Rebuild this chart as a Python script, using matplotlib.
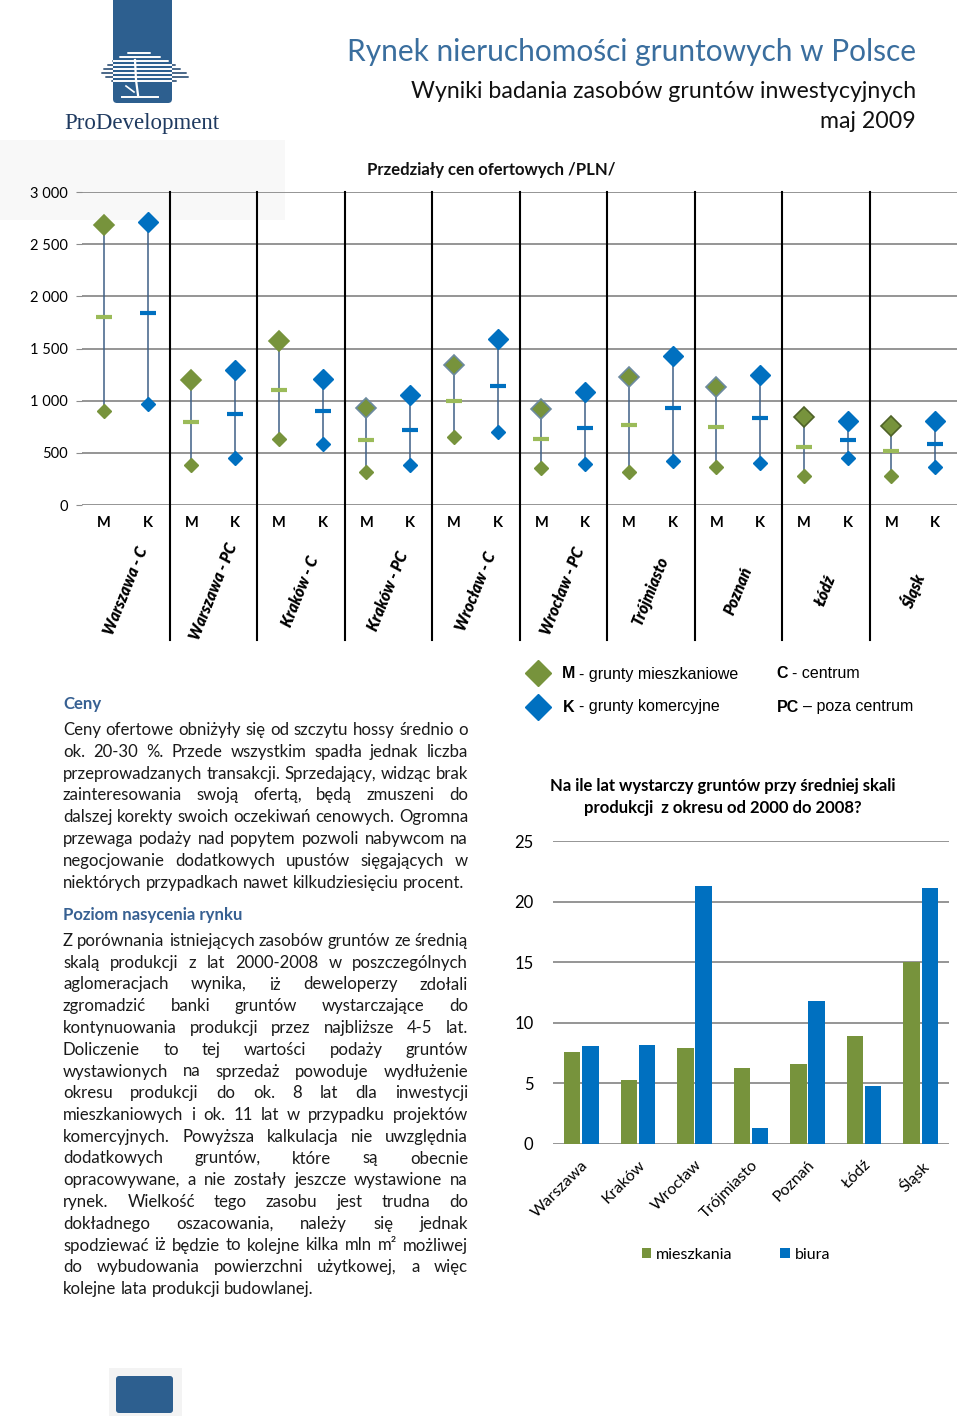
import numpy as np
import matplotlib
matplotlib.use('Agg')
import matplotlib.pyplot as plt
import matplotlib.transforms as mtransforms
from matplotlib.patches import Rectangle, FancyBboxPatch
from matplotlib.lines import Line2D

plt.rcParams['font.family'] = ['Lato', 'DejaVu Sans']

# --- price ranges (PLN / m2) ---
cities_top = ['Warszawa - C', 'Warszawa - PC', 'Kraków - C', 'Kraków - PC', 'Wrocław - C',
              'Wrocław - PC', 'Trójmiasto', 'Poznań', 'Łódź', 'Śląsk']
m_max = [2680, 1200, 1575, 930, 1340, 920, 1225, 1130, 840, 760]
m_avg = [1800, 795, 1105, 625, 995, 635, 770, 745, 555, 520]
m_min = [905, 385, 635, 315, 650, 355, 315, 360, 280, 280]
k_max = [2710, 1295, 1205, 1050, 1590, 1080, 1430, 1250, 805, 805]
k_avg = [1840, 875, 900, 720, 1145, 735, 930, 830, 625, 580]
k_min = [965, 450, 585, 385, 700, 390, 425, 405, 450, 360]

# --- years of land supply ---
cities_bar = ['Warszawa', 'Kraków', 'Wrocław', 'Trójmiasto', 'Poznań', 'Łódź', 'Śląsk']
mieszkania = [7.6, 5.3, 7.9, 6.3, 6.6, 8.9, 15.0]
biura = [8.1, 8.2, 21.3, 1.3, 11.8, 4.8, 21.1]

GREEN = '#77933C'
GREEN_LT = '#9BBB59'
BLUE = '#0070C0'
STEM = '#3F5F86'
HEAD = '#376092'
NAVY = '#2D5F8F'

W, H = 960, 1420
fig = plt.figure(figsize=(W / 100, H / 100), dpi=100)
page = fig.add_axes([0, 0, 1, 1], zorder=0)
page.set_xlim(0, W)
page.set_ylim(H, 0)
page.axis('off')


def fbox(l, t, r, b):
    return [l / W, 1 - b / H, (r - l) / W, (b - t) / H]


# ---------- logo ----------
page.add_patch(Rectangle((0, 140), 285, 80, color='#F8F8F8', lw=0, zorder=0))
logo = FancyBboxPatch((113, -6), 59, 109, boxstyle='round,pad=0,rounding_size=4',
                      color=NAVY, lw=0, zorder=1)
page.add_patch(logo)
stripes = [(53, 128, 150), (57, 120, 160), (61, 113, 168), (65, 108, 175),
           (69, 104, 180), (73, 102, 186), (77, 106, 188), (81, 112, 176)]
for y, a, b in stripes:
    page.plot([a, b], [y, y], color='#4A6788', lw=1.4, zorder=2, solid_capstyle='round')
    ln, = page.plot([a, b], [y, y], color='white', lw=1.4, zorder=3, solid_capstyle='round')
    ln.set_clip_path(logo)
page.plot([135, 136, 138], [60, 80, 95], color='white', lw=1.6, zorder=3)
page.plot([126, 134], [86, 92], color='white', lw=1.2, zorder=3)
page.plot([122, 158], [97, 97], color='white', lw=1.4, zorder=3)
page.text(142, 123, 'ProDevelopment', family=['Liberation Serif', 'DejaVu Serif'],
          fontsize=16.5, color='#1F3A60', ha='center', va='center')

page.add_patch(Rectangle((109, 1368), 73, 48, color='#F3F3F3', lw=0, zorder=0))
page.add_patch(FancyBboxPatch((116, 1376), 57, 37, boxstyle='round,pad=0,rounding_size=3',
                              color=NAVY, lw=0, zorder=1))

# ---------- titles ----------
page.text(916, 52, 'Rynek nieruchomości gruntowych w Polsce', ha='right', va='center',
          fontsize=21.5, color='#3A6E9E')
page.text(916, 91, 'Wyniki badania zasobów gruntów inwestycyjnych', ha='right', va='center',
          fontsize=16.7, color='#111111')
page.text(916, 121, 'maj 2009', ha='right', va='center', fontsize=16.7, color='#111111')
page.text(367, 170, 'Przedziały cen ofertowych /PLN/', ha='left', va='center',
          fontsize=12, fontweight='bold', color='#111111')

# ---------- price range chart ----------
ax = fig.add_axes(fbox(82, 192, 957, 505), zorder=1)
ax.set_facecolor('none')
x_m = np.arange(len(cities_top)) * 2
x_k = x_m + 1
ax.vlines(x_m, m_min, m_max, color=STEM, lw=1.1, zorder=2)
ax.vlines(x_k, k_min, k_max, color=STEM, lw=1.1, zorder=2)
ax.plot(x_m, m_avg, ls='none', marker='_', ms=12, mew=3, color=GREEN_LT, zorder=3)
ax.plot(x_k, k_avg, ls='none', marker='_', ms=12, mew=3, color=BLUE, zorder=3)
ax.plot(x_m, m_min, ls='none', marker='D', ms=7.5, color=GREEN, zorder=4)
ax.plot(x_k, k_min, ls='none', marker='D', ms=7.5, color=BLUE, zorder=4)
m_edges = [GREEN, GREEN, GREEN, '#6C8AA0', '#6C8AA0', '#6C8AA0', '#6C8AA0', '#6C8AA0',
           '#4F6228', '#4F6228']
for xi, v, ec in zip(x_m, m_max, m_edges):
    ax.plot(xi, v, ls='none', marker='D', ms=10, mfc=GREEN, mec=ec, mew=1.2, zorder=4)
ax.plot(x_k, k_max, ls='none', marker='D', ms=10, color=BLUE, zorder=4)

ax.set_xlim(-0.5, 2 * len(cities_top) - 0.5)
ax.set_ylim(0, 3000)
yt = np.arange(0, 3001, 500)
ax.set_yticks(yt)
ax.set_yticklabels([f'{v:,}'.replace(',', ' ') for v in yt])
ax.grid(axis='y', color='#8C8C8C', lw=1.3)
ax.set_axisbelow(True)
for s in ax.spines.values():
    s.set_visible(False)
ax.set_xticks(np.arange(2 * len(cities_top)))
ax.set_xticklabels(['M', 'K'] * len(cities_top), fontweight='bold', fontsize=10.5)
ax.tick_params(axis='x', length=0, pad=8)
ax.tick_params(axis='y', length=4, color='#8C8C8C', labelsize=10.5, pad=6)
trans = mtransforms.blended_transform_factory(ax.transData, ax.transAxes)
for g in range(1, len(cities_top)):
    ax.add_line(Line2D([2 * g - 0.5] * 2, [-0.431, 1.0], transform=trans, color='black',
                       lw=1.5, clip_on=False, zorder=1))
for g, name in enumerate(cities_top):
    ax.text(2 * g + 0.5, -0.275, name, transform=trans, rotation=68, ha='center', va='center',
            fontstyle='italic', fontweight='heavy', fontsize=11.3)

# ---------- top legend ----------
r = fig.canvas.get_renderer()
page.plot(538, 673, marker='D', ms=13, color=GREEN, ls='none')
page.plot(538, 707, marker='D', ms=13, color=BLUE, ls='none')
LEG = ['Liberation Sans', 'DejaVu Sans']
for x0, y0, bold, rest in [(562, 674, 'M', '- grunty mieszkaniowe'),
                           (563, 707, 'K', '- grunty komercyjne'),
                           (776, 674, 'C', '- centrum'),
                           (777, 707, 'PC', '– poza centrum')]:
    t = page.text(x0, y0, bold, family=LEG, fontweight='bold', fontsize=11.5, va='center')
    w = t.get_window_extent(r).width
    page.text(x0 + w + 4, y0, rest, family=LEG, fontsize=11.5, va='center')

# ---------- bar chart ----------
page.text(723, 786, 'Na ile lat wystarczy gruntów przy średniej skali', ha='center',
          va='center', fontsize=12, fontweight='bold')
page.text(723, 808, 'produkcji  z okresu od 2000 do 2008?', ha='center', va='center',
          fontsize=12, fontweight='bold')
bx = fig.add_axes(fbox(553, 841, 949, 1144), zorder=1)
bx.set_facecolor('none')
xb = np.arange(len(cities_bar))
bx.bar(xb - 0.16, mieszkania, width=0.29, color=GREEN, label='mieszkania', zorder=2)
bx.bar(xb + 0.16, biura, width=0.29, color=BLUE, label='biura', zorder=2)
bx.set_xlim(-0.5, len(cities_bar) - 0.5)
bx.set_ylim(0, 25)
bx.set_yticks(np.arange(0, 26, 5))
bx.grid(axis='y', color='#8C8C8C', lw=1.3)
bx.set_axisbelow(True)
for s in bx.spines.values():
    s.set_visible(False)
bx.tick_params(axis='y', length=0, labelsize=12, pad=14)
bx.set_xticks(xb)
bx.set_xticklabels(cities_bar, rotation=45, ha='right', rotation_mode='anchor', fontsize=11.5)
bx.tick_params(axis='x', length=0, pad=10)
bx.legend(loc='center', bbox_to_anchor=(0.462, -0.366), ncol=2, frameon=False, fontsize=11.5,
          handlelength=0.6, handleheight=0.6, handletextpad=0.3, columnspacing=3.0)

# ---------- justified text ----------
ceny = [
    'Ceny ofertowe obniżyły się od szczytu hossy średnio o',
    'ok. 20-30 %. Przede wszystkim spadła jednak liczba',
    'przeprowadzanych transakcji. Sprzedający, widząc brak',
    'zainteresowania swoją ofertą, będą zmuszeni do',
    'dalszej korekty swoich oczekiwań cenowych. Ogromna',
    'przewaga podaży nad popytem pozwoli nabywcom na',
    'negocjowanie dodatkowych upustów sięgających w',
    'niektórych przypadkach nawet kilkudziesięciu procent.',
]
poziom = [
    'Z porównania istniejących zasobów gruntów ze średnią',
    'skalą produkcji z lat 2000-2008 w poszczególnych',
    'aglomeracjach wynika, iż deweloperzy zdołali',
    'zgromadzić banki gruntów wystarczające do',
    'kontynuowania produkcji przez najbliższe 4-5 lat.',
    'Doliczenie to tej wartości podaży gruntów',
    'wystawionych na sprzedaż powoduje wydłużenie',
    'okresu produkcji do ok. 8 lat dla inwestycji',
    'mieszkaniowych i ok. 11 lat w przypadku projektów',
    'komercyjnych. Powyższa kalkulacja nie uwzględnia',
    'dodatkowych gruntów, które są obecnie',
    'opracowywane, a nie zostały jeszcze wystawione na',
    'rynek. Wielkość tego zasobu jest trudna do',
    'dokładnego oszacowania, należy się jednak',
    'spodziewać iż będzie  to kolejne kilka mln m² możliwej',
    'do wybudowania powierzchni użytkowej, a więc',
    'kolejne lata produkcji budowlanej.',
]

# fit body font so the last line of the first paragraph has its reference width
probe = page.text(0, 0, ceny[-1], fontsize=12)
BODY = 12 * 400 / probe.get_window_extent(r).width
probe.remove()


def paragraph(lines, x0, x1, y_first, dy):
    sp_t = page.text(0, 0, 'a a', fontsize=BODY)
    nsp_t = page.text(0, 0, 'aa', fontsize=BODY)
    space = sp_t.get_window_extent(r).width - nsp_t.get_window_extent(r).width
    sp_t.remove()
    nsp_t.remove()
    for i, line in enumerate(lines):
        y = y_first + i * dy + 5
        words = line.split()
        ts = [page.text(0, y, w, fontsize=BODY, va='baseline', color='#1A1A1A') for w in words]
        ws = [t.get_window_extent(r).width for t in ts]
        if i == len(lines) - 1 or len(words) < 2:
            gap = space
        else:
            gap = (x1 - x0 - sum(ws)) / (len(words) - 1)
        x = x0
        for t, w in zip(ts, ws):
            t.set_x(x)
            x += w + gap


page.text(63, 709, 'Ceny', fontsize=BODY, fontweight='bold', color=HEAD, va='baseline')
paragraph(ceny, 63, 468, 730, 21.8)
page.text(63, 920, 'Poziom nasycenia rynku', fontsize=BODY, fontweight='bold', color=HEAD,
          va='baseline')
paragraph(poziom, 63, 468, 941, 21.75)

fig.savefig('out.png', dpi=100)
